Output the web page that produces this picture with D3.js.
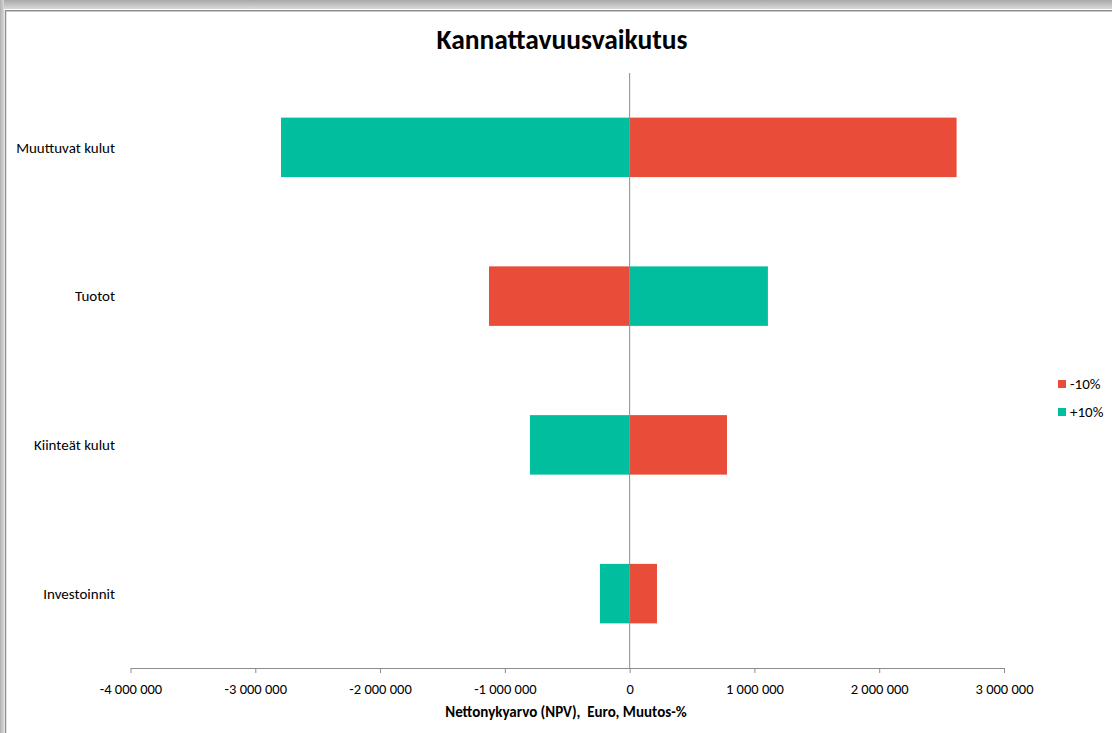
<!DOCTYPE html>
<html><head><meta charset="utf-8">
<script src="https://cdn.jsdelivr.net/npm/d3@7"></script>
<style>
html,body{margin:0;padding:0;background:#fff;}
svg{display:block;}
</style></head>
<body>
<svg id="chart" width="1112" height="733"></svg>
<script>
const categories = ["Muuttuvat kulut", "Tuotot", "Kiinteät kulut", "Investoinnit"];
const seriesNames = ["-10%", "+10%"];
const minus10 = [2620000, -1127000, 780000, 219000];
const plus10 = [-2794000, 1108000, -799000, -238000];
const xTicks = [-4000000, -3000000, -2000000, -1000000, 0, 1000000, 2000000, 3000000];
const colors = ["#E94C38", "#01BF9E"];
const title = "Kannattavuusvaikutus";
const xTitle = "Nettonykyarvo (NPV),  Euro, Muutos-%";

const svg = d3.select("#chart");
const W = 1112, H = 733;

// frame / shadow
const defs = svg.append("defs");
const gTop = defs.append("linearGradient").attr("id","gt").attr("x1",0).attr("y1",0).attr("x2",0).attr("y2",1);
gTop.append("stop").attr("offset","0%").attr("stop-color","#a8a8a8");
gTop.append("stop").attr("offset","100%").attr("stop-color","#dedede");
const gLeft = defs.append("linearGradient").attr("id","gl").attr("x1",0).attr("y1",0).attr("x2",1).attr("y2",0);
gLeft.append("stop").attr("offset","0%").attr("stop-color","#b0b0b0");
gLeft.append("stop").attr("offset","100%").attr("stop-color","#d8d8d8");
svg.append("rect").attr("x",0).attr("y",0).attr("width",W).attr("height",10).attr("fill","url(#gt)");
svg.append("rect").attr("x",0).attr("y",0).attr("width",4).attr("height",H).attr("fill","url(#gl)");
svg.append("rect").attr("x",4).attr("y",9).attr("width",W).attr("height",H).attr("fill","#fff");
svg.append("line").attr("x1",5.5).attr("x2",5.5).attr("y1",10).attr("y2",H).attr("stroke","#8f8f8f").attr("stroke-width",1.5);
svg.append("line").attr("x1",5).attr("x2",W).attr("y1",10.7).attr("y2",10.7).attr("stroke","#8f8f8f").attr("stroke-width",1.5);

const plotTop = 73, plotBottom = 668;
const x = d3.scaleLinear().domain([-4000000, 3000000]).range([130.5, 1004]);
const y = d3.scaleBand().domain(categories).range([plotTop, plotBottom]).paddingInner(0.6).paddingOuter(0.3);

const fontFam = "Calibri, Carlito, Lato, 'Open Sans', sans-serif";

// title
svg.append("text").attr("x", 562).attr("y", 49).attr("text-anchor","middle")
  .attr("font-family", fontFam).attr("font-weight","bold").attr("font-size", 27.5)
  .attr("fill","#000").text(title);

// bars
const data = categories.map((c,i)=>({cat:c, vals:[minus10[i], plus10[i]]}));
const gBars = svg.append("g");
data.forEach(d=>{
  d.vals.forEach((v,j)=>{
    gBars.append("rect")
      .attr("x", x(Math.min(0,v)))
      .attr("width", Math.abs(x(v)-x(0)))
      .attr("y", y(d.cat))
      .attr("height", y.bandwidth())
      .attr("fill", colors[j]);
  });
});

// zero line
svg.append("line").attr("x1", x(0)).attr("x2", x(0)).attr("y1", plotTop).attr("y2", plotBottom)
  .attr("stroke","#8c8c8c").attr("stroke-width",1);

// x axis
const fmt = v => (v < 0 ? "-" : "") + d3.format(",")(Math.abs(v)).replace(/,/g, " ");
const axis = d3.axisBottom(x).tickValues(xTicks).tickSize(5).tickSizeOuter(0).tickFormat(fmt);
const gx = svg.append("g").attr("transform", `translate(0,${plotBottom})`).call(axis);
gx.select(".domain").attr("stroke","#8c8c8c");
gx.selectAll(".tick line").attr("stroke","#8c8c8c");
gx.selectAll(".tick text").attr("font-family", fontFam).attr("font-size", 14.5).attr("fill","#000").attr("dy","1.25em");

svg.append("text").attr("x", 566).attr("y", 717).attr("text-anchor","middle")
  .attr("font-family", fontFam).attr("font-weight","bold").attr("font-size", 15).attr("fill","#000")
  .attr("xml:space","preserve").style("white-space","pre").text(xTitle);

// y labels
categories.forEach(c=>{
  svg.append("text").attr("x", 115).attr("y", y(c)+y.bandwidth()/2).attr("dy","0.35em")
    .attr("text-anchor","end").attr("font-family", fontFam).attr("font-size", 15).attr("fill","#000").text(c);
});

// legend
seriesNames.forEach((s,i)=>{
  const ly = 384 + i*28;
  svg.append("rect").attr("x",1058).attr("y", ly-4).attr("width",8).attr("height",8).attr("fill",colors[i]);
  svg.append("text").attr("x",1070).attr("y", ly).attr("dy","0.35em")
    .attr("font-family", fontFam).attr("font-size", 15).attr("fill","#000").text(s);
});
</script>
</body></html>
